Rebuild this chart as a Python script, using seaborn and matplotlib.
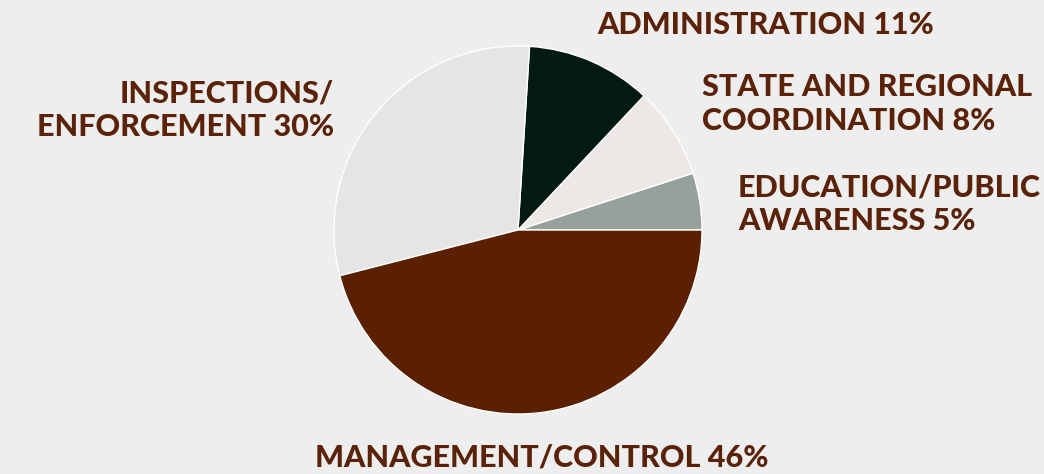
import matplotlib
matplotlib.use("Agg")
import matplotlib.pyplot as plt
import seaborn as sns
from matplotlib import font_manager

sns.set_theme(style="white")

categories = ["Education/Public Awareness", "State and Regional Coordination",
              "Administration", "Inspections/Enforcement", "Management/Control"]
values = [5, 8, 11, 30, 46]
colors = ["#97a19c", "#ece8e5", "#021a12", "#e4e5e4", "#5a2000"]
label_lines = [
    ["EDUCATION/PUBLIC", "AWARENESS 5%"],
    ["STATE AND REGIONAL", "COORDINATION 8%"],
    ["ADMINISTRATION 11%"],
    ["INSPECTIONS/", "ENFORCEMENT 30%"],
    ["MANAGEMENT/CONTROL 46%"],
]

W, H = 1044, 474
fig = plt.figure(figsize=(W / 100, H / 100), dpi=100)
fig.patch.set_facecolor("#eeeeee")
ax = fig.add_axes([0, 0, 1, 1])
ax.set_facecolor("#eeeeee")

ax.pie(values, colors=colors, startangle=0, counterclock=True,
       center=(518, H - 230), radius=184, frame=True,
       wedgeprops=dict(edgecolor="white", linewidth=1.0))
ax.set_xlim(0, W)
ax.set_ylim(0, H)
ax.set_aspect("equal")
ax.axis("off")

names = {f.name for f in font_manager.fontManager.ttflist}
fam = ["Lato", "DejaVu Sans"] if "Lato" in names else ["DejaVu Sans"]
tc = "#5a2208"
fs = 22

# (x, first baseline y in image coords, ha)
pos = [
    (738, 196, "left"),
    (702, 96, "left"),
    (597, 34, "left"),
    (334, 102, "right"),
    (315, 467, "left"),
]
for (x, yb, ha), lines in zip(pos, label_lines):
    for i, line in enumerate(lines):
        ax.text(x, H - (yb + i * 34), line, ha=ha, va="baseline",
                fontsize=fs, fontweight="black", color=tc, family=fam)

fig.savefig("out.png", dpi=100, facecolor=fig.get_facecolor())
